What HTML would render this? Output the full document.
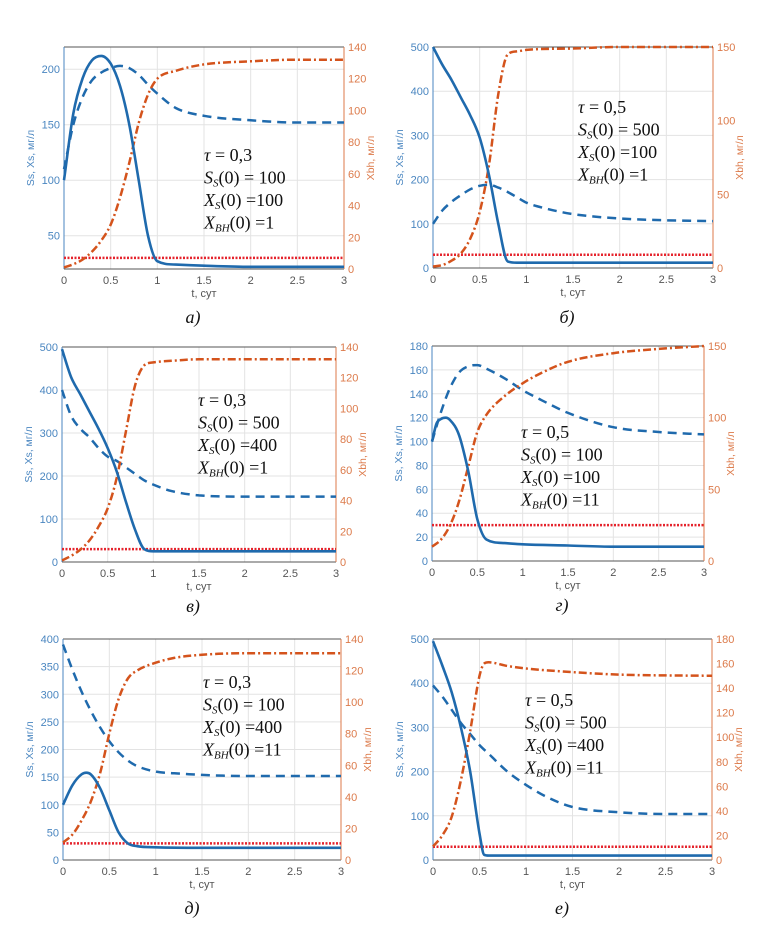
<!DOCTYPE html>
<html><head><meta charset="utf-8">
<style>
html,body{margin:0;padding:0;background:#fff;}
svg{display:block;}
</style></head>
<body>
<svg id="fig" width="775" height="935" viewBox="0 0 775 935" xmlns="http://www.w3.org/2000/svg"></svg>
<script>
// ---- Data (t in days, values in mg/l) ----
const xTicks = [0,0.5,1,1.5,2,2.5,3];
const xTickLabels = ["0","0.5","1","1.5","2","2.5","3"];

// Panel a
const a_tSs = [0,0.1,0.2,0.3,0.4,0.5,0.6,0.7,0.8,0.9,1.0,1.2,1.5,2,2.5,3];
const a_ss  = [100,160,192,208,212,205,185,150,100,50,27,24,23,22,22,22];
const a_tXs = [0,0.1,0.2,0.3,0.4,0.5,0.6,0.7,0.8,0.9,1.0,1.2,1.5,2,2.5,3];
const a_xs  = [110,150,175,190,197,201,203,201,195,186,178,165,158,154,152,152];
const a_tXb = [0,0.1,0.2,0.3,0.4,0.5,0.6,0.7,0.8,0.9,1.0,1.2,1.5,2,2.5,3];
const a_xb  = [1,3,6,11,18,28,45,67,92,110,120,125,129,131,132,132];
const a_lTicks = [50,100,150,200];
const a_rTicks = [0,20,40,60,80,100,120,140];

// Panel b
const b_tSs = [0,0.1,0.2,0.3,0.4,0.5,0.6,0.7,0.8,0.9,1,1.5,2,3];
const b_ss  = [500,460,425,385,345,295,210,100,15,12,12,12,12,12];
const b_tXs = [0,0.1,0.2,0.3,0.4,0.5,0.6,0.7,0.8,0.9,1.0,1.2,1.5,2,2.5,3];
const b_xs  = [100,130,150,165,178,186,188,182,172,160,148,135,122,112,108,106];
const b_tXb = [0,0.1,0.2,0.3,0.4,0.5,0.6,0.7,0.8,0.9,1.0,1.5,2,3];
const b_xb  = [1,2,5,10,20,38,70,118,145,147,148,149,150,150];
const b_lTicks = [0,100,200,300,400,500];
const b_rTicks = [0,50,100,150];

// Panel v
const c_tSs = [0,0.1,0.2,0.3,0.4,0.5,0.6,0.7,0.8,0.9,1,1.5,3];
const c_ss  = [495,430,390,350,310,265,210,140,75,30,25,25,25];
const c_tXs = [0,0.1,0.2,0.3,0.4,0.5,0.6,0.7,0.8,0.9,1.0,1.2,1.5,2,2.5,3];
const c_xs  = [400,340,310,290,265,245,235,220,205,190,180,165,155,152,152,152];
const c_tXb = [0,0.1,0.2,0.3,0.4,0.5,0.6,0.7,0.8,0.9,1.0,1.2,1.5,2,3];
const c_xb  = [1,4,8,14,23,35,55,85,115,128,130,131,132,132,132];
const c_lTicks = [0,100,200,300,400,500];
const c_rTicks = [0,20,40,60,80,100,120,140];

// Panel g
const d_tSs = [0,0.05,0.1,0.15,0.2,0.3,0.4,0.5,0.6,0.8,1,1.5,2,3];
const d_ss  = [100,115,119,120,118,105,75,35,18,15,14,13,12,12];
const d_tXs = [0,0.1,0.2,0.3,0.4,0.5,0.6,0.8,1.0,1.2,1.5,2,2.5,3];
const d_xs  = [100,125,145,158,163,164,161,153,143,135,124,112,108,106];
const d_tXb = [0,0.1,0.2,0.3,0.4,0.5,0.6,0.8,1.0,1.2,1.5,2,2.5,3];
const d_xb  = [10,15,25,42,66,90,102,115,124,131,139,145,148,150];
const d_lTicks = [0,20,40,60,80,100,120,140,160,180];
const d_rTicks = [0,50,100,150];

// Panel d
const e_tSs = [0,0.1,0.2,0.25,0.3,0.4,0.5,0.6,0.7,0.8,1,1.5,3];
const e_ss  = [100,135,155,158,155,130,90,50,30,25,23,22,22];
const e_tXs = [0,0.1,0.2,0.3,0.4,0.5,0.6,0.7,0.8,1,1.2,1.5,2,3];
const e_xs  = [390,345,305,270,240,215,195,180,170,160,157,154,152,152];
const e_tXb = [0,0.1,0.2,0.3,0.4,0.5,0.6,0.7,0.8,1.0,1.2,1.5,2,3];
const e_xb  = [11,16,25,37,55,80,102,115,120,125,128,130,131,131];
const e_lTicks = [0,50,100,150,200,250,300,350,400];
const e_rTicks = [0,20,40,60,80,100,120,140];

// Panel e
const f_tSs = [0,0.1,0.2,0.3,0.4,0.5,0.55,0.6,1,3];
const f_ss  = [495,440,380,300,200,60,12,10,10,10];
const f_tXs = [0,0.1,0.2,0.3,0.4,0.5,0.6,0.8,1.0,1.2,1.5,2,2.5,3];
const f_xs  = [395,370,340,310,285,260,240,200,170,145,120,108,104,104];
const f_tXb = [0,0.1,0.2,0.3,0.4,0.5,0.55,0.6,0.8,1,1.5,2,3];
const f_xb  = [11,20,35,65,105,150,160,161,158,156,153,151,150];
const f_lTicks = [0,100,200,300,400,500];
const f_rTicks = [0,20,40,60,80,100,120,140,160,180];

const threshold = 30;

const NS = "http://www.w3.org/2000/svg";
const svg = document.getElementById('fig');
function mk(tag, attrs, parent){
  const el = document.createElementNS(NS, tag);
  for (const k in attrs) el.setAttribute(k, attrs[k]);
  (parent||svg).appendChild(el);
  return el;
}
function monotonePath(pts){
  const n = pts.length;
  if (n < 2) return '';
  const dx=[],m=[],s=[];
  for(let i=0;i<n-1;i++){dx[i]=pts[i+1][0]-pts[i][0]; s[i]=(pts[i+1][1]-pts[i][1])/dx[i];}
  m[0]=s[0]; m[n-1]=s[n-2];
  for(let i=1;i<n-1;i++){ m[i]=(s[i-1]*s[i]<=0)?0:(s[i-1]+s[i])/2; }
  for(let i=0;i<n-1;i++){
    if(s[i]===0){m[i]=0;m[i+1]=0;continue;}
    const a=m[i]/s[i], b=m[i+1]/s[i], h=a*a+b*b;
    if(h>9){const t=3/Math.sqrt(h); m[i]=t*a*s[i]; m[i+1]=t*b*s[i];}
  }
  let d='M'+pts[0][0].toFixed(1)+','+pts[0][1].toFixed(1);
  for(let i=0;i<n-1;i++){
    const h=dx[i]/3;
    d+=' C'+(pts[i][0]+h).toFixed(1)+','+(pts[i][1]+m[i]*h).toFixed(1)+' '+(pts[i+1][0]-h).toFixed(1)+','+(pts[i+1][1]-m[i+1]*h).toFixed(1)+' '+pts[i+1][0].toFixed(1)+','+pts[i+1][1].toFixed(1);
  }
  return d;
}

const BLUE='#1f6aad', ORANGE='#d4531c', BT='#4a86c0', OT='#dc7a4a';

function panel(id, box, lRange, rRange, lTicks, rTicks, tSs, ss, tXs, xs, tXb, xb, ann, caption, capPos){
  const [x0,x1,y0,y1] = box;
  const g = mk('g',{});
  
  
  const xs_ = t => x0 + (t/3)*(x1-x0);
  const yl = v => y1 - (v-lRange[0])/(lRange[1]-lRange[0])*(y1-y0);
  const yr = v => y1 - (v-rRange[0])/(rRange[1]-rRange[0])*(y1-y0);
  xTicks.forEach(t=>{ if(t>0&&t<3){ const l=mk('line',{x1:xs_(t),x2:xs_(t),y1:y0,y2:y1,stroke:'#e3e3e3','stroke-width':1},g);
      }});
  lTicks.forEach(v=>{ const yy=yl(v); if(yy>y0+1&&yy<y1-1){ const l=mk('line',{x1:x0,x2:x1,y1:yy,y2:yy,stroke:'#e3e3e3','stroke-width':1},g);
      }});
  const top=mk('line',{x1:x0,x2:x1,y1:y0,y2:y0,stroke:'#555','stroke-width':1},g);
   
  const bot=mk('line',{x1:x0,x2:x1,y1:y1,y2:y1,stroke:'#555','stroke-width':1},g);
   
  const la=mk('line',{x1:x0,x2:x0,y1:y0,y2:y1,stroke:BT,'stroke-width':1},g);
   
  const ra=mk('line',{x1:x1,x2:x1,y1:y0,y2:y1,stroke:OT,'stroke-width':1},g);
   
  xTicks.forEach((t,i)=>{
    const tx=mk('text',{x:xs_(t),y:y1+15,'text-anchor':'middle','font-size':11,fill:'#555','font-family':'Liberation Sans, sans-serif'},g);
    tx.textContent=xTickLabels[i];
     
  });
  lTicks.forEach(v=>{
    const tx=mk('text',{x:x0-4,y:yl(v)+4,'text-anchor':'end','font-size':11,fill:BT,'font-family':'Liberation Sans, sans-serif'},g);
    tx.textContent=v;
     
  });
  rTicks.forEach(v=>{
    const tx=mk('text',{x:x1+4,y:yr(v)+4,'text-anchor':'start','font-size':11,fill:OT,'font-family':'Liberation Sans, sans-serif'},g);
    tx.textContent=v;
     
  });
  const xl=mk('text',{x:(x0+x1)/2,y:y1+28,'text-anchor':'middle','font-size':11,fill:'#555','font-family':'Liberation Sans, sans-serif'},g);
  xl.textContent='t, сут';
   
  const cyl=(y0+y1)/2;
  const ylb=mk('text',{x:x0-30,y:cyl,'text-anchor':'middle','font-size':10.5,fill:BT,'font-family':'Liberation Sans, sans-serif',transform:'rotate(-90 '+(x0-30)+' '+cyl+')'},g);
  ylb.textContent='Ss, Xs, мг/л';
   
  const yrb=mk('text',{x:x1+30,y:cyl,'text-anchor':'middle','font-size':10.5,fill:OT,'font-family':'Liberation Sans, sans-serif',transform:'rotate(-90 '+(x1+30)+' '+cyl+')'},g);
  yrb.textContent='Xbh, мг/л';
   
  const th=mk('line',{x1:x0,x2:x1,y1:yl(threshold),y2:yl(threshold),stroke:'#e5232c','stroke-width':2.5,'stroke-dasharray':'2,1.5'},g);
   
  const p1=mk('path',{d:monotonePath(tXs.map((t,i)=>[xs_(t),yl(xs[i])])),fill:'none',stroke:BLUE,'stroke-width':2.5,'stroke-dasharray':'9,6'},g);
   
  const p2=mk('path',{d:monotonePath(tXb.map((t,i)=>[xs_(t),yr(xb[i])])),fill:'none',stroke:ORANGE,'stroke-width':2.5,'stroke-dasharray':'8,3,2,3'},g);
   
  const p3=mk('path',{d:monotonePath(tSs.map((t,i)=>[xs_(t),yl(ss[i])])),fill:'none',stroke:BLUE,'stroke-width':2.6},g);
   
  const [ax,ay,tau,s0,xs0,xb0]=ann;
  const at=mk('text',{x:ax,y:ay,'font-size':18,fill:'#111','font-family':'Liberation Serif, serif'},g);
   
  at.innerHTML =
    '<tspan x="'+ax+'" dy="0" font-style="italic">τ</tspan><tspan> = '+tau+'</tspan>'+
    '<tspan x="'+ax+'" dy="22.5" font-style="italic">S</tspan><tspan font-size="11" font-style="italic" dy="3">S</tspan><tspan dy="-3">(0) = '+s0+'</tspan>'+
    '<tspan x="'+ax+'" dy="22.5" font-style="italic">X</tspan><tspan font-size="11" font-style="italic" dy="3">S</tspan><tspan dy="-3">(0) ='+xs0+'</tspan>'+
    '<tspan x="'+ax+'" dy="22.5" font-style="italic">X</tspan><tspan font-size="11" font-style="italic" dy="3">BH</tspan><tspan dy="-3">(0) ='+xb0+'</tspan>';
  const cp=mk('text',{x:capPos[0],y:capPos[1],'text-anchor':'middle','font-size':18,'font-style':'italic',fill:'#111','font-family':'Liberation Serif, serif'},g);
  cp.textContent=caption;
   
}

panel('a',[64,344,47,269],[20,220],[0,140],a_lTicks,a_rTicks,a_tSs,a_ss,a_tXs,a_xs,a_tXb,a_xb,[204,161,'0,3',100,100,1],'а)',[193,323]);
panel('b',[433,713,47,268],[0,500],[0,150],b_lTicks,b_rTicks,b_tSs,b_ss,b_tXs,b_xs,b_tXb,b_xb,[578,113,'0,5',500,100,1],'б)',[567,323]);
panel('v',[62,336,347,562],[0,500],[0,140],c_lTicks,c_rTicks,c_tSs,c_ss,c_tXs,c_xs,c_tXb,c_xb,[198,406,'0,3',500,400,1],'в)',[193,612]);
panel('g',[432,704,346,561],[0,180],[0,150],d_lTicks,d_rTicks,d_tSs,d_ss,d_tXs,d_xs,d_tXb,d_xb,[521,438,'0,5',100,100,11],'г)',[562,611]);
panel('d',[63,341,639,860],[0,400],[0,140],e_lTicks,e_rTicks,e_tSs,e_ss,e_tXs,e_xs,e_tXb,e_xb,[203,688,'0,3',100,400,11],'д)',[192,914]);
panel('e',[433,712,639,860],[0,500],[0,180],f_lTicks,f_rTicks,f_tSs,f_ss,f_tXs,f_xs,f_tXb,f_xb,[525,706,'0,5',500,400,11],'е)',[562,914]);
</script>
</body></html>
